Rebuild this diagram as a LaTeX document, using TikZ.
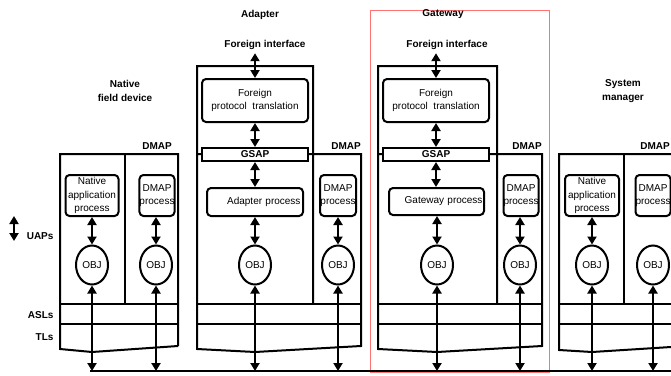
\documentclass[tikz,border=0pt]{standalone}
\usepackage{fontspec}
\setmainfont{Liberation Sans}
\usetikzlibrary{arrows.meta,shapes.geometric}

\begin{document}
\begin{tikzpicture}[x=1pt, y=-1pt,
  frame/.style={line width=2pt},
  proc/.style={draw, line width=2pt, rounded corners=4pt, inner sep=0pt, align=center, font={\fontsize{10}{13.5}\selectfont}},
  obj/.style={draw, ellipse, line width=2pt, minimum width=32pt, minimum height=39pt, inner sep=0pt},
  gsap/.style={draw, fill=white, line width=2pt, minimum width=106pt, minimum height=13pt, inner sep=0pt, font=\bfseries},
  lbl/.style={align=center, font={\bfseries\fontsize{10}{13.5}\selectfont}},
  lnk/.style={{Triangle[length=8pt,width=9pt]}-{Triangle[length=8pt,width=9pt]}, line width=2.8pt}]
  \useasboundingbox (0,0) rectangle (671,375);

  \draw[red!55, line width=0.7pt] (370,10) rectangle (549,372);

  \draw[frame] (178,346) -- (178,154) -- (60,154) -- (60,349) -- (92,352) -- (178,346);
  \draw[frame] (125,154) -- (125,304);
  \draw[frame] (60,304) -- (178,304) (60,324) -- (178,324);

  \draw[frame] (313,304) -- (313,66) -- (197,66) -- (197,349) -- (255,352) -- (361,346) -- (361,154) -- (197,154);
  \draw[frame] (197,304) -- (361,304) (197,324) -- (361,324);

  \draw[frame] (497,304) -- (497,66) -- (378,66) -- (378,349) -- (437,352) -- (542,346) -- (542,154) -- (378,154);
  \draw[frame] (378,304) -- (542,304) (378,324) -- (542,324);

  \draw[frame] (671,154) -- (559,154) -- (559,350) -- (592,352) -- (671,347);
  \draw[frame] (624,154) -- (624,304);
  \draw[frame] (559,304) -- (671,304) (559,324) -- (671,324);

  \node[lbl] (nfd) at (125,91) {Native\\field device};
  \node[lbl] (ndmap) at (157,146) {DMAP};
  \node[proc, minimum width=53pt, minimum height=41pt] (nproc) at (92,195.5) {Native\\application\\process};
  \node[proc, minimum width=35pt, minimum height=41pt] (ndproc) at (157,195.5) {DMAP\\process};
  \node[obj] (nobj) at (92,265) {OBJ};
  \node[obj] (ndobj) at (156,265) {OBJ};

  \node[lbl] (adapter) at (260,15) {Adapter};
  \node[lbl] (afi) at (265,45) {Foreign interface};
  \node[lbl] (admap) at (346,146) {DMAP};
  \node[proc, minimum width=106pt, minimum height=43pt] (afpt) at (255,100.5) {Foreign\\protocol\ \ translation};
  \node[gsap] (agsap) at (255,154.5) {GSAP};
  \node[proc, minimum width=96pt, minimum height=28pt, text width=91pt, align=right] (aproc) at (255,202) {Adapter process};
  \node[proc, minimum width=36pt, minimum height=41pt] (adproc) at (338,195.5) {DMAP\\process};
  \node[obj] (aobj) at (255,265) {OBJ};
  \node[obj] (adobj) at (338,265) {OBJ};

  \node[lbl] (gateway) at (443,14) {Gateway};
  \node[lbl] (gfi) at (447,45) {Foreign interface};
  \node[lbl] (gdmap) at (527,146) {DMAP};
  \node[proc, minimum width=106pt, minimum height=43pt] (gfpt) at (436,100.5) {Foreign\\protocol\ \ translation};
  \node[gsap] (ggsap) at (436,154.5) {GSAP};
  \node[proc, minimum width=95pt, minimum height=27pt, text width=92pt, align=right] (gproc) at (436.5,201.5) {Gateway process};
  \node[proc, minimum width=35pt, minimum height=41pt] (gdproc) at (521,195.5) {DMAP\\process};
  \node[obj] (gobj) at (437,265) {OBJ};
  \node[obj] (gdobj) at (520,265) {OBJ};

  \node[lbl] (sysman) at (623,91) {System\\manager};
  \node[lbl] (sdmap) at (655,146) {DMAP};
  \node[proc, minimum width=54pt, minimum height=41pt] (sproc) at (592,195.5) {Native\\application\\process};
  \node[proc, minimum width=34pt, minimum height=41pt] (sdproc) at (653,195.5) {DMAP\\process};
  \node[obj] (sobj) at (592,265) {OBJ};
  \node[obj] (sdobj) at (653,265) {OBJ};

  \node[lbl, anchor=east] (uaps) at (57,236) {UAPs};
  \node[lbl, anchor=east] (asls) at (57,315) {ASLs};
  \node[lbl, anchor=east] (tls) at (57,337) {TLs};
  \coordinate (legtop) at (14,216);
  \coordinate (legbot) at (14,241);
  \draw[lnk] (legtop) -- (legbot);

  \coordinate (busl) at (90,371);
  \coordinate (busr) at (671,371);
  \draw[line width=2.8pt] (busl) -- (busr);

  \draw[lnk] (nproc) -- (nobj);
  \draw[lnk] (ndproc.south -| ndobj) -- (ndobj);
  \draw[lnk] (nobj) -- (nobj |- busl);
  \draw[lnk] (ndobj) -- (ndobj |- busl);

  \draw[lnk] (afpt.north |- afi.south) -- (afpt);
  \draw[lnk] (afpt) -- (agsap);
  \draw[lnk] (agsap) -- (aproc);
  \draw[lnk] (aproc) -- (aobj);
  \draw[lnk] (adproc) -- (adobj);
  \draw[lnk] (aobj) -- (aobj |- busl);
  \draw[lnk] (adobj) -- (adobj |- busl);

  \draw[lnk] (gfpt.north |- gfi.south) -- (gfpt);
  \draw[lnk] (gfpt) -- (ggsap);
  \draw[lnk] (ggsap) -- (gproc.north -| ggsap);
  \draw[lnk] (gproc.south -| gobj) -- (gobj);
  \draw[lnk] (gdproc.south -| gdobj) -- (gdobj);
  \draw[lnk] (gobj) -- (gobj |- busl);
  \draw[lnk] (gdobj) -- (gdobj |- busl);

  \draw[lnk] (sproc) -- (sobj);
  \draw[lnk] (sobj) -- (sobj |- busl);
  \draw[lnk] (sdobj) -- (sdobj |- busl);
\end{tikzpicture}
\end{document}
